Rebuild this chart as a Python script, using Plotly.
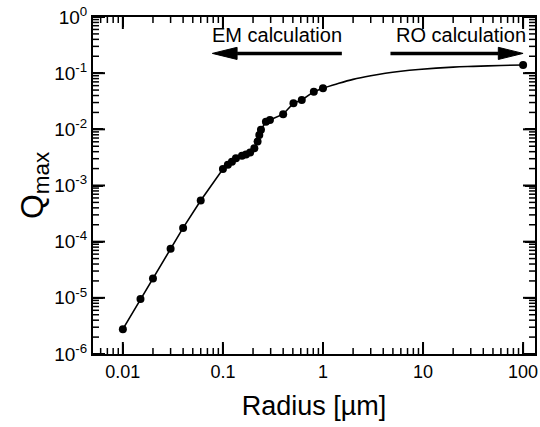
import numpy as np
import plotly.graph_objects as go

# EM calculation points (radius in um, Qmax)
x_em = [0.01, 0.015, 0.02, 0.03, 0.04, 0.06, 0.1, 0.112, 0.123, 0.135, 0.155, 0.17,
        0.187, 0.206, 0.222, 0.231, 0.24, 0.269, 0.295, 0.40, 0.507, 0.614, 0.81, 1.0]
y_em = [2.77e-6, 9.5e-6, 2.2e-5, 7.45e-5, 1.76e-4, 5.4e-4, 1.97e-3, 2.33e-3, 2.66e-3,
        3.06e-3, 3.4e-3, 3.55e-3, 3.85e-3, 4.6e-3, 6.05e-3, 7.9e-3, 9.8e-3, 1.37e-2,
        1.47e-2, 1.86e-2, 2.91e-2, 3.33e-2, 4.69e-2, 5.38e-2]

# RO calculation curve
x_ro = [1.0, 1.44, 2.0, 3.0, 4.2, 6.0, 9.0, 20.0, 31.8, 60.0, 100.0]
y_ro = [0.0538, 0.066, 0.0775, 0.09, 0.0995, 0.108, 0.116, 0.128, 0.132, 0.137, 0.14]

# RO point
x_ro_pt = [100.0]
y_ro_pt = [0.14]

# ticks and labels
x_tickvals = [0.01, 0.1, 1, 10, 100]
x_ticktext = ["0.01", "0.1", "1", "10", "100"]
y_tickvals = [1e-6, 1e-5, 1e-4, 1e-3, 1e-2, 1e-1, 1e0]
y_ticktext = ["10<sup>-6</sup>", "10<sup>-5</sup>", "10<sup>-4</sup>", "10<sup>-3</sup>",
              "10<sup>-2</sup>", "10<sup>-1</sup>", "10<sup>0</sup>"]

X_RANGE = [0.00503, 131.5]
Y_RANGE = [1e-6, 1e0]

x_minor = [m * 10.0 ** e for e in range(-3, 3) for m in range(2, 10)
           if X_RANGE[0] <= m * 10.0 ** e <= X_RANGE[1]]
y_minor = [m * 10.0 ** e for e in range(-6, 0) for m in range(2, 10)]

FONT = "Liberation Sans, Arial, Helvetica, sans-serif"
W, H = 540, 427
ML, MR, MT, MB = 93, 3, 17, 73
PW, PH = W - ML - MR, H - MT - MB
XDEC = np.log10(X_RANGE[1] / X_RANGE[0])
YDEC = np.log10(Y_RANGE[1] / Y_RANGE[0])

fig = go.Figure()


# inside ticks on all four sides as line-shaped markers, placed with the axes' log scales
def tick_markers(xvals, yvals, length_px):
    fy = 10 ** (length_px / 2 / PH * YDEC)
    fx = 10 ** (length_px / 2 / PW * XDEC)
    xs, ys, syms = [], [], []
    for v in xvals:
        xs += [v, v]
        ys += [Y_RANGE[0] * fy, Y_RANGE[1] / fy]
        syms += ["line-ns", "line-ns"]
    for v in yvals:
        xs += [X_RANGE[0] * fx, X_RANGE[1] / fx]
        ys += [v, v]
        syms += ["line-ew", "line-ew"]
    return xs, ys, syms


for xv, yv, ln, wd in [(x_tickvals, y_tickvals, 10, 2.0), (x_minor, y_minor, 5, 1.5)]:
    tx, ty, ts = tick_markers(xv, yv, ln)
    fig.add_trace(go.Scatter(x=tx, y=ty, mode="markers", cliponaxis=False,
                             marker=dict(symbol=ts, size=ln, color="black",
                                         line=dict(color="black", width=wd)),
                             showlegend=False, hoverinfo="skip"))

fig.add_trace(go.Scatter(x=x_ro, y=y_ro, mode="lines", line=dict(color="black", width=1.6, shape="spline"),
                         showlegend=False, hoverinfo="skip"))
fig.add_trace(go.Scatter(x=x_em, y=y_em, mode="lines+markers",
                         line=dict(color="black", width=1.6),
                         marker=dict(color="black", size=8), showlegend=False))
fig.add_trace(go.Scatter(x=x_ro_pt, y=y_ro_pt, mode="markers",
                         marker=dict(color="black", size=8), showlegend=False))

# Arrows (paper coordinates)
ay = 0.892
em_tail, em_tip = 0.563, 0.270
ro_tail, ro_tip = 0.673, 0.973
head_len, head_half = 0.056, 0.018
for tail, tip in [(em_tail, em_tip), (ro_tail, ro_tip)]:
    d = 1 if tip > tail else -1
    base = tip - d * head_len
    fig.add_shape(type="line", xref="paper", yref="paper", x0=tail, x1=base, y0=ay, y1=ay,
                  line=dict(color="black", width=3.5))
    fig.add_shape(type="path", xref="paper", yref="paper",
                  path=f"M {tip},{ay} L {base},{ay + head_half} L {base},{ay - head_half} Z",
                  fillcolor="black", line=dict(color="black", width=1))

fig.add_annotation(x=0.417, y=0.947, xref="paper", yref="paper", text="EM calculation",
                   xanchor="center", yanchor="middle",
                   showarrow=False, font=dict(size=20, color="black", family=FONT))
fig.add_annotation(x=0.833, y=0.947, xref="paper", yref="paper", text="RO calculation",
                   xanchor="center", yanchor="middle",
                   showarrow=False, font=dict(size=20, color="black", family=FONT))

axis_common = dict(showline=True, linecolor="black", linewidth=2, mirror="ticks",
                   ticks="inside", ticklen=10, tickwidth=2, tickcolor="black",
                   showgrid=False, zeroline=False, tickmode="array")

fig.update_xaxes(type="log", range=list(np.log10(X_RANGE)),
                 tickvals=x_tickvals, ticktext=x_ticktext,
                 tickfont=dict(size=18, color="black", family=FONT),
                 title=dict(text="Radius [µm]", font=dict(size=27, color="black", family=FONT),
                            standoff=16),
                 **axis_common)
fig.update_yaxes(type="log", range=list(np.log10(Y_RANGE)),
                 tickvals=y_tickvals, ticktext=y_ticktext,
                 tickfont=dict(size=19, color="black", family=FONT),
                 title=dict(text="Q<sub>max</sub>", font=dict(size=32, color="black", family=FONT),
                            standoff=0),
                 **axis_common)

fig.update_layout(width=W, height=H, margin=dict(l=ML, r=MR, t=MT, b=MB),
                  paper_bgcolor="white", plot_bgcolor="white",
                  font=dict(family=FONT, color="black"))

fig.write_html("out.html")
